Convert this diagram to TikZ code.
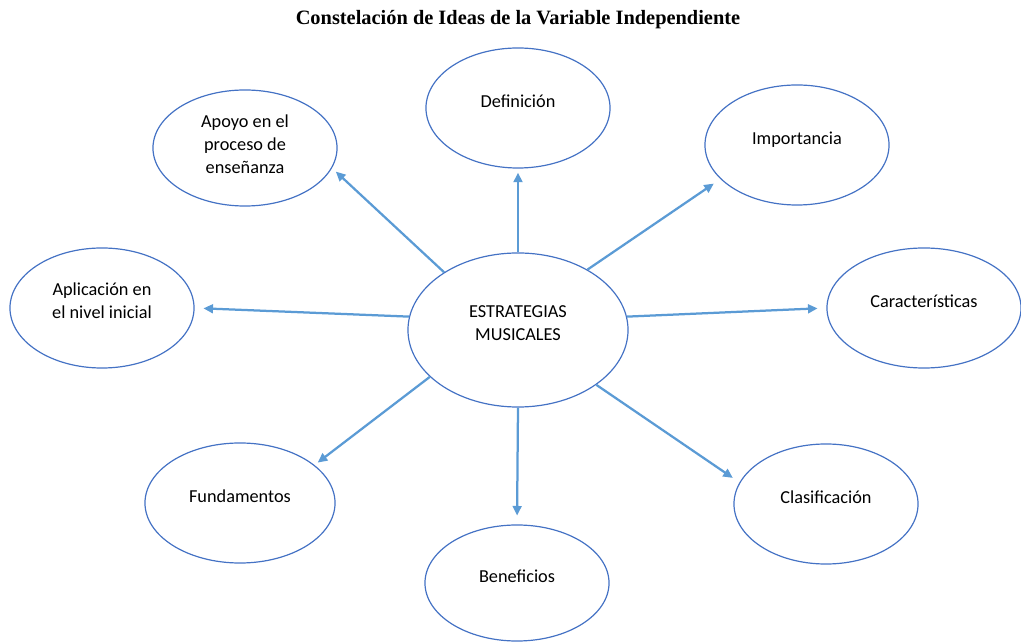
\documentclass[tikz,border=0pt]{standalone}
\usepackage{fontspec}
\setmainfont{Carlito}
\newfontfamily\titlefont{Liberation Serif}
\usetikzlibrary{shapes.geometric,arrows.meta}
\definecolor{ringblue}{HTML}{4472C4}
\definecolor{arrowblue}{HTML}{5B9BD5}
% text sits a little above the middle of each ellipse
\newcommand{\lift}[2][0.14cm]{\raisebox{#1}[\height][\depth]{\begin{tabular}{@{}c@{}}#2\end{tabular}}}

\begin{document}
\begin{tikzpicture}[x=0.025cm,y=-0.025cm,
  idea/.style={ellipse,draw=ringblue,line width=0.85pt,inner sep=0pt,
    minimum width=4.6cm,minimum height=3cm,
    font=\fontsize{13}{16.4}\selectfont},
  link/.style={draw=arrowblue,line width=1.6pt,
    -{Triangle[length=0.24cm,width=0.22cm]}}]
\useasboundingbox (0,0) rectangle (1021,642);
\path (518,20) node[font=\titlefont\bfseries\fontsize{14.5}{17}\selectfont] (tit)
  {Constelación de Ideas de la Variable Independiente};

\path (518,330) node[idea,minimum width=5.5cm,minimum height=3.85cm] (est) {\lift{ESTRATEGIAS\\MUSICALES}};

\path (518,108) node[idea] (def) {\lift{Definición}};
\draw[link,shorten >=0.1cm] (est.north) -- (def.south);

\path (245,148) node[idea,minimum height=2.9cm] (apo) {\lift[0.05cm]{Apoyo en el\\proceso de\\enseñanza}};
\draw[link,shorten >=0.13cm] (est.142) -- (apo.-13);

\path (797,145) node[idea] (imp) {\lift{Importancia}};
\draw[link,shorten >=0.2cm] (est.41) -- (imp.204);

\path (102,308) node[idea] (apl) {\lift{Aplicación en\\el nivel inicial}};
\draw[link,shorten >=0.22cm] (est.173) -- (apl.east);

\path (924,308) node[idea,minimum width=4.85cm] (car) {\lift{Características}};
\draw[link,shorten >=0.22cm] (est.7) -- (car.west);

\path (240,503) node[idea,minimum width=4.75cm] (fun) {\lift{Fundamentos}};
\draw[link,shorten >=0.1cm] (est.208) -- (fun.27);

\path (517,583) node[idea,minimum height=2.9cm] (ben) {\lift{Beneficios}};
\draw[link,shorten >=0.22cm] (est.south) -- (ben.north);

\path (826,504) node[idea] (cla) {\lift{Clasificación}};
\draw[link,shorten >=0.2cm] (est.-35) -- (cla.166);
\end{tikzpicture}
\end{document}
